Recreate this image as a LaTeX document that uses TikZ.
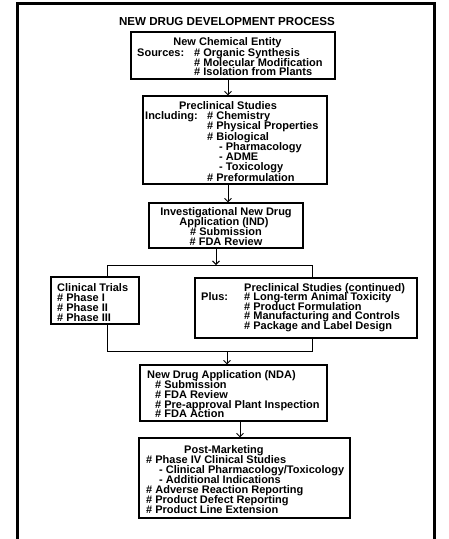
\documentclass[tikz,border=0pt]{standalone}
\usepackage{fontspec}
\setmainfont{Liberation Sans}
\usetikzlibrary{arrows.meta}
\begin{document}
\begin{tikzpicture}[x=1pt,y=-1pt,
  box/.style={draw=black, line width=1.1pt, inner sep=0pt},
  t/.style={inner sep=0pt, anchor=base west, font=\fontsize{11}{12}\selectfont\bfseries},
  tc/.style={t, anchor=base},
  tt/.style={inner sep=0pt, anchor=base, font=\fontsize{11.6}{13}\selectfont\bfseries},
  conn/.style={line width=0.9pt},
  arr/.style={conn, -{Straight Barb[length=3.5pt,width=7pt]}}]
\useasboundingbox (0,0) rectangle (449,539);
% outer frame
\draw[line width=3pt] (17.5,541) -- (17.5,3.5) -- (434,3.5) -- (434,541);
\node[tt] (title) at (227,25) {NEW DRUG DEVELOPMENT PROCESS};

% box 1
\node[box, minimum width=204pt, minimum height=47pt] (b1) at (233,55.5) {};
\node[tc] (b1a) at (227.5,45.5) {New Chemical Entity};
\node[t] (b1b) at (137,56) {Sources:};
\node[t] (b1c) at (194,56) {\# Organic Synthesis};
\node[t] (b1d) at (194,66) {\# Molecular Modification};
\node[t] (b1e) at (194,75.5) {\# Isolation from Plants};

% box 2
\node[box, minimum width=184pt, minimum height=88pt] (b2) at (235,140) {};
\node[tc] (b2a) at (228,109) {Preclinical Studies};
\node[t] (b2b) at (145,119) {Including:};
\node[t] (b2c) at (207,119) {\# Chemistry};
\node[t] (b2d) at (207,129.5) {\# Physical Properties};
\node[t] (b2e) at (207,140) {\# Biological};
\node[t] (b2f) at (219,150) {- Pharmacology};
\node[t] (b2g) at (219,160) {- ADME};
\node[t] (b2h) at (219,170.5) {- Toxicology};
\node[t] (b2i) at (207,181) {\# Preformulation};

% box 3 IND
\node[box, minimum width=154pt, minimum height=45pt] (b3) at (226,225.5) {};
\node[tc] (b3a) at (226,215) {Investigational New Drug};
\node[tc] (b3b) at (224,225) {Application (IND)};
\node[tc] (b3c) at (226,235) {\# Submission};
\node[tc] (b3d) at (226,245) {\# FDA Review};

% box 4 clinical
\node[box, minimum width=88pt, minimum height=47pt] (b4) at (95,300.5) {};
\node[t] (b4a) at (57,291) {Clinical Trials};
\node[t] (b4b) at (57,301) {\# Phase I};
\node[t] (b4c) at (57,311) {\# Phase II};
\node[t] (b4d) at (57,321) {\# Phase III};

% box 5 preclinical continued
\node[box, minimum width=222pt, minimum height=60pt] (b5) at (306,308) {};
\node[t] (b5a) at (244,291) {Preclinical Studies (continued)};
\node[t] (b5b) at (201,300.5) {Plus:};
\node[t] (b5c) at (244,300.5) {\# Long-term Animal Toxicity};
\node[t] (b5d) at (244,310) {\# Product Formulation};
\node[t] (b5e) at (244,319.5) {\# Manufacturing and Controls};
\node[t] (b5f) at (244,329.5) {\# Package and Label Design};

% box 6 NDA
\node[box, minimum width=187pt, minimum height=56pt] (b6) at (233.5,393) {};
\node[t] (b6a) at (147,378.5) {New Drug Application (NDA)};
\node[t] (b6b) at (155,388) {\# Submission};
\node[t] (b6c) at (155,398) {\# FDA Review};
\node[t] (b6d) at (155,408) {\# Pre-approval Plant Inspection};
\node[t] (b6e) at (155,417.5) {\# FDA Action};

% box 7 post-marketing
\node[box, minimum width=211pt, minimum height=80pt] (b7) at (244.5,478) {};
\node[t] (b7a) at (184,453) {Post-Marketing};
\node[t] (b7b) at (146,463) {\# Phase IV Clinical Studies};
\node[t] (b7c) at (159,473) {- Clinical Pharmacology/Toxicology};
\node[t] (b7d) at (159,483) {- Additional Indications};
\node[t] (b7e) at (146,493) {\# Adverse Reaction Reporting};
\node[t] (b7f) at (146,503) {\# Product Defect Reporting};
\node[t] (b7g) at (146,513) {\# Product Line Extension};

% connectors
\coordinate (xa) at (228,0);
\coordinate (sj) at (216,265);
\coordinate (sl) at (107,265);
\coordinate (sr) at (312,265);
\coordinate (ml) at (107,351);
\coordinate (mr) at (312,351);
\coordinate (mj) at (227,351);
\coordinate (xb) at (240,0);

\draw[arr] (b1.south -| xa) -- (b2.north -| xa);
\draw[arr] (b2.south -| xa) -- (b3.north -| xa);
\draw[arr] (b3.south -| sj) -- (sj);
\draw[conn] (b4.north -| sl) -- (sl) -- (sr) -- (b5.north -| sr);
\draw[conn] (b4.south -| ml) -- (ml) -- (mr) -- (b5.south -| mr);
\draw[arr] (mj) -- (b6.north -| mj);
\draw[arr] (b6.south -| xb) -- (b7.north -| xb);
\end{tikzpicture}
\end{document}
